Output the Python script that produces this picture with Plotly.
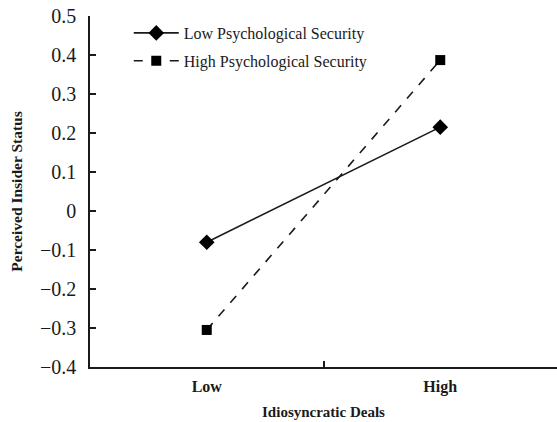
import plotly.graph_objects as go

categories = ["Low", "High"]
low_security = [-0.08, 0.215]
high_security = [-0.305, 0.387]
y_ticks = [-0.4, -0.3, -0.2, -0.1, 0, 0.1, 0.2, 0.3, 0.4, 0.5]
y_tick_text = ["\u22120.4", "\u22120.3", "\u22120.2", "\u22120.1", "0", "0.1", "0.2", "0.3", "0.4", "0.5"]

FONT = "Liberation Serif, Times New Roman, serif"
INK = "#1a1a1a"
xpos = list(range(len(categories)))

fig = go.Figure()
fig.add_trace(go.Scatter(
    x=xpos, y=low_security, mode="lines+markers", name="Low Psychological Security",
    legendgroup="a",
    line=dict(color=INK, width=1.6),
    marker=dict(symbol="diamond", size=12, color="#000000"),
))
fig.add_trace(go.Scatter(
    x=xpos, y=high_security, mode="lines+markers", name="High Psychological Security",
    legendgroup="b",
    line=dict(color=INK, width=1.6, dash="dash"),
    marker=dict(symbol="square", size=10, color="#000000"),
))

fig.update_layout(
    width=557, height=422,
    margin=dict(l=90, r=0, t=16, b=55, autoexpand=False),
    paper_bgcolor="white", plot_bgcolor="white",
    font=dict(family=FONT, color=INK),
    showlegend=True,
    legend=dict(
        x=0.083, y=1.0, xanchor="left", yanchor="top",
        font=dict(family=FONT, size=16, color=INK),
        bgcolor="rgba(0,0,0,0)", itemwidth=45, tracegroupgap=4,
    ),
    xaxis=dict(
        range=[-0.5, 1.5], tickvals=xpos, ticktext=["<b>%s</b>" % c for c in categories],
        ticks="", showline=True, linecolor=INK, linewidth=1.5, showgrid=False, zeroline=False,
        tickfont=dict(family=FONT, size=16, color=INK),
        ticklabelstandoff=4, automargin=False,
        minor=dict(tickvals=[0.5], ticks="inside", ticklen=6, tickcolor=INK, tickwidth=1.5, showgrid=False),
        title=dict(text="<b>Idiosyncratic Deals</b>", font=dict(family=FONT, size=15, color=INK), standoff=12),
    ),
    yaxis=dict(
        range=[-0.4, 0.5], tickvals=y_ticks, ticktext=y_tick_text,
        ticks="inside", ticklen=6, tickwidth=1.5, tickcolor=INK,
        showline=True, linecolor=INK, linewidth=1.5, showgrid=False, zeroline=False,
        tickfont=dict(family=FONT, size=20, color=INK),
        ticklabelstandoff=8, automargin=False,
        title=dict(text="<b>Perceived Insider Status</b>", font=dict(family=FONT, size=15.5, color=INK), standoff=14),
    ),
)

fig.write_html("out.html", config={"displayModeBar": False},
               post_script="document.body.style.margin='0';document.body.style.overflow='hidden';")
